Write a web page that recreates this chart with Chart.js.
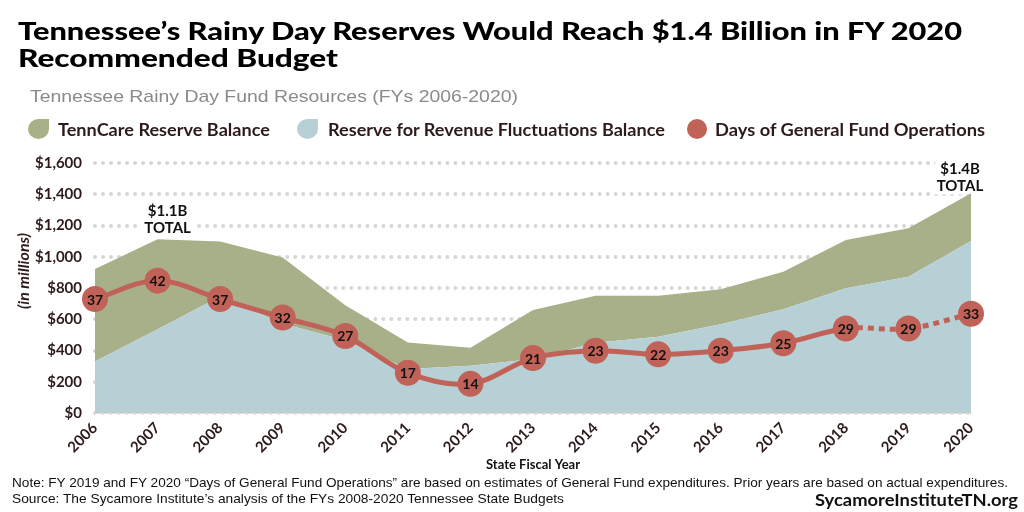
<!DOCTYPE html>
<html><head><meta charset="utf-8">
<script src="https://cdn.jsdelivr.net/npm/chart.js@4.4.0/dist/chart.umd.min.js"></script>
<style>
html,body{margin:0;padding:0;background:#fff;width:1024px;height:512px;overflow:hidden}
#wrap{position:relative;width:1024px;height:512px}
#c{position:absolute;left:0;top:0}
.t{position:absolute;white-space:nowrap;line-height:1;transform-origin:0 0}
.leaf{position:absolute;width:21px;height:20px;border-radius:50% 0 50% 50%}
.dot{position:absolute;width:20px;height:20px;border-radius:50%}
</style></head><body>
<div id="wrap">
<canvas id="c" width="1024" height="512"></canvas>
<div class="t" id="title1" style="font:900 25px Lato;color:#000" data-x="18" data-base="37" data-w="944">Tennessee’s Rainy Day Reserves Would Reach $1.4 Billion in FY 2020</div>
<div class="t" id="title2" style="font:900 25px Lato;color:#000" data-x="18" data-base="64" data-w="320">Recommended Budget</div>
<div class="t" id="sub" style="font:17px 'Liberation Sans';color:#8a8a8a" data-x="30" data-base="101" data-w="488">Tennessee Rainy Day Fund Resources (FYs 2006-2020)</div>
<div id="legend"></div>
<div class="t" id="note" style="font:13px 'Liberation Sans';color:#111" data-x="12" data-base="486" data-w="996">Note: FY 2019 and FY 2020 “Days of General Fund Operations” are based on estimates of General Fund expenditures. Prior years are based on actual expenditures.</div>
<div class="t" id="source" style="font:13px 'Liberation Sans';color:#111" data-x="12" data-base="502" data-w="552">Source: The Sycamore Institute’s analysis of the FYs 2008-2020 Tennessee State Budgets</div>
<div class="t" id="site" style="font:bold 17px Lato;color:#111" data-x="815" data-base="504" data-w="203">SycamoreInstituteTN.org</div>
</div>
<script>
// ---- data ----
const categories = ['2006','2007','2008','2009','2010','2011','2012','2013','2014','2015','2016','2017','2018','2019','2020'];
const reserveForRevenueFluctuations = [329, 536, 745, 571, 465, 282, 303, 346, 450, 488, 568, 664, 798, 872, 1101];
const tennCareReserve = [592, 576, 352, 425, 225, 170, 115, 313, 301, 263, 224, 240, 309, 310, 305];
const daysOfOperations = [37, 42, 37, 32, 27, 17, 14, 21, 23, 22, 23, 25, 29, 29, 33];
const seriesNames = ['TennCare Reserve Balance', 'Reserve for Revenue Fluctuations Balance', 'Days of General Fund Operations'];
const yTickMin = 0, yTickMax = 1600, yTickStep = 200;
const estimateFromIndex = 12; // segments after FY2018 are estimates (dotted)
const totalCallouts = [
  {index: 1, lines: ['$1.1B', 'TOTAL']},
  {index: 14, lines: ['$1.4B', 'TOTAL']}
];

// ---- styles ----
const GREEN = '#a8b08a', BLUE = '#b7d0d6', RED = '#c06258', DARK = '#2d1b1b';
const calloutStyle = {1: {dx: 10, dy: -12}, 14: {dx: -11, dy: -8}};

function place(el) {
  const cs = getComputedStyle(el);
  const fs = parseFloat(cs.fontSize);
  const fam = cs.fontFamily.toLowerCase();
  const asc = fam.includes('lato') ? 0.887 : 0.8465;
  el.style.left = el.dataset.x + 'px';
  el.style.top = (parseFloat(el.dataset.base) - asc * fs) + 'px';
  if (el.dataset.w) {
    const w = el.getBoundingClientRect().width;
    el.style.transform = 'scaleX(' + (parseFloat(el.dataset.w) / w) + ')';
  }
}

const legendDefs = [
  {name: seriesNames[0], cls: 'leaf', color: GREEN, sx: 28, tx: 58, tw: 212},
  {name: seriesNames[1], cls: 'leaf', color: BLUE, sx: 297, tx: 328, tw: 337},
  {name: seriesNames[2], cls: 'dot', color: RED, sx: 687, tx: 715, tw: 270}
];
const lg = document.getElementById('legend');
legendDefs.forEach(d => {
  const s = document.createElement('div');
  s.className = d.cls; s.style.background = d.color; s.style.left = d.sx + 'px'; s.style.top = '119px';
  lg.appendChild(s);
  const t = document.createElement('div');
  t.className = 't'; t.textContent = d.name;
  t.style.font = 'bold 16.5px Lato'; t.style.color = DARK;
  t.dataset.x = d.tx; t.dataset.base = 135; t.dataset.w = d.tw;
  lg.appendChild(t);
});

const calloutPlugin = {
  id: 'callouts',
  beforeDraw(chart) { chart.ctx.lineCap = 'round'; },
  beforeDatasetsDraw(chart) {
    const ctx = chart.ctx, xs = chart.scales.x, ys = chart.scales.y;
    ctx.lineCap = 'butt';
    ctx.save();
    ctx.font = 'bold 15px Lato';
    ctx.fillStyle = '#fff';
    totalCallouts.forEach(c => {
      const st = calloutStyle[c.index];
      const total = reserveForRevenueFluctuations[c.index] + tennCareReserve[c.index];
      const x = xs.getPixelForValue(c.index) + st.dx;
      const y0 = ys.getPixelForValue(total) + st.dy;
      c.lines.forEach((ln, k) => {
        const y = y0 - (c.lines.length - 1 - k) * 17;
        const w = ctx.measureText(ln).width;
        ctx.fillRect(x - w / 2 - 5, y - 9, w + 10, 18);
      });
    });
    ctx.restore();
  },
  afterDatasetsDraw(chart) {
    const ctx = chart.ctx, xs = chart.scales.x, ys = chart.scales.y;
    ctx.save();
    ctx.textAlign = 'center'; ctx.textBaseline = 'middle';
    ctx.font = 'bold 14px Lato'; ctx.fillStyle = '#111';
    const meta = chart.getDatasetMeta(2);
    meta.data.forEach((pt, i) => ctx.fillText(String(daysOfOperations[i]), pt.x, pt.y + 1));
    ctx.font = 'bold 15px Lato';
    totalCallouts.forEach(c => {
      const st = calloutStyle[c.index];
      const total = reserveForRevenueFluctuations[c.index] + tennCareReserve[c.index];
      const x = xs.getPixelForValue(c.index) + st.dx;
      const y0 = ys.getPixelForValue(total) + st.dy;
      c.lines.forEach((ln, k) => {
        const y = y0 - (c.lines.length - 1 - k) * 17;
        ctx.fillText(ln, x, y + 1);
      });
    });
    ctx.translate(24, 271);
    ctx.rotate(-Math.PI / 2);
    ctx.font = 'italic bold 16px Lato'; ctx.fillStyle = DARK;
    ctx.fillText('(in millions)', 0, 0);
    ctx.restore();
  }
};

function startChart() {
  document.querySelectorAll('.t').forEach(place);
  new Chart(document.getElementById('c'), {
    data: {
      labels: categories,
      datasets: [
        {type: 'line', label: seriesNames[1], data: reserveForRevenueFluctuations, yAxisID: 'y',
         backgroundColor: BLUE, borderWidth: 0, pointRadius: 0, fill: 'origin', tension: 0, order: 2},
        {type: 'line', label: seriesNames[0], data: tennCareReserve, yAxisID: 'y',
         backgroundColor: GREEN, borderWidth: 0, pointRadius: 0, fill: '-1', tension: 0, order: 2},
        {type: 'line', label: seriesNames[2], data: daysOfOperations, yAxisID: 'y2',
         borderColor: RED, borderWidth: 5, pointRadius: 13, pointBackgroundColor: RED, pointBorderWidth: 0,
         pointHoverRadius: 13, tension: 0.35, fill: false, clip: false, order: 0,
         segment: {borderDash: ctx => ctx.p0DataIndex >= estimateFromIndex ? [6, 5] : undefined}}
      ]
    },
    options: {
      responsive: false, animation: false,
      layout: {padding: {top: 163, right: 53, bottom: 39, left: 0}},
      plugins: {legend: {display: false}, tooltip: {enabled: false}, title: {display: false}},
      scales: {
        x: {
          offset: false,
          grid: {display: false, drawTicks: false},
          border: {display: true, color: '#ead9d9', width: 1},
          ticks: {autoSkip: false, maxRotation: 45, minRotation: 45, padding: 6,
                  font: {family: 'Lato', weight: 'bold', size: 15}, color: DARK},
          title: {display: true, text: 'State Fiscal Year', font: {family: 'Lato', weight: 'bold', size: 13},
                  color: '#111', padding: {top: 2, bottom: 0}},
          afterFit: s => { s.height = 60; }
        },
        y: {
          stacked: true, min: yTickMin, max: yTickMax,
          ticks: {stepSize: yTickStep, padding: 13, font: {family: 'Lato', weight: 'bold', size: 15}, color: DARK,
                  callback: v => '$' + Number(v).toLocaleString('en-US')},
          grid: {color: '#d6d6d6', lineWidth: 4, drawTicks: false},
          border: {display: false, dash: [0.01, 8]},
          afterFit: s => { s.width = 95; }
        },
        y2: {display: false, min: 6.1, max: 73.9}
      }
    },
    plugins: [calloutPlugin]
  });
}
if (document.fonts && document.fonts.load) {
  Promise.all([
    document.fonts.load('900 25px Lato'), document.fonts.load('bold 15px Lato'),
    document.fonts.load('italic bold 15px Lato'), document.fonts.load('17px "Liberation Sans"')
  ]).then(startChart, startChart);
} else startChart();
</script>
</body></html>
